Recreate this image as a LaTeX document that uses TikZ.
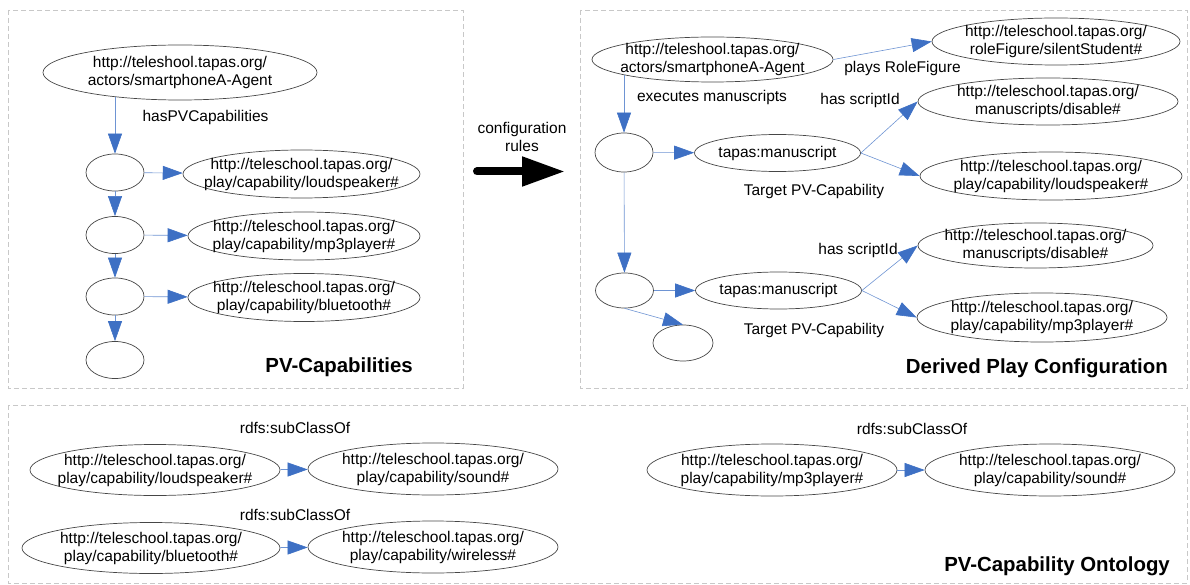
\documentclass[tikz,border=0pt]{standalone}
\usepackage{fontspec}
\setmainfont{Liberation Sans}
\usepackage{tikz}
\usetikzlibrary{arrows.meta, shapes.geometric}
\definecolor{linkblue}{RGB}{62, 112, 196}
\definecolor{framegray}{RGB}{200, 200, 200}
\definecolor{rimgray}{RGB}{70, 70, 70}

\begin{document}
\begin{tikzpicture}[
    x=1pt, y=-1pt,
    font=\fontsize{15.5}{18}\selectfont,
    uri/.style={ellipse, draw=rimgray, line width=0.7pt, inner xsep=-20pt, inner ysep=-8pt, align=center, minimum width=#1, minimum height=48pt},
    blank/.style={ellipse, draw=rimgray, line width=0.7pt, inner sep=0pt, minimum width=58pt, minimum height=37pt},
    script/.style={ellipse, draw=rimgray, line width=0.7pt, inner xsep=-20pt, inner ysep=-8pt, minimum width=166pt, minimum height=37pt},
    rel/.style={-{Triangle[length=20pt, width=14pt, color=linkblue]}, draw=linkblue!75, line width=0.6pt},
    lbl/.style={inner sep=0pt},
    heading/.style={anchor=east, inner sep=0pt, font=\fontsize{20.4}{24}\selectfont\bfseries},
    panel/.style={draw=framegray, dash pattern=on 5pt off 3pt, line width=0.8pt}
]
    \useasboundingbox (0,0) rectangle (1190,585);

    % Frames
    \draw[panel] (8,10) rectangle (463,388);
    \draw[panel] (580,10) rectangle (1187,388);
    \draw[panel] (8,405) rectangle (1187,583);

    % PV-Capabilities
    \node[uri=274pt, minimum height=55pt] (agentA) at (180,72.5) {http://teleshool.tapas.org/\\actors/smartphoneA-Agent};
    \node[lbl] (haspv) at (205.5,117) {hasPVCapabilities};
    \node[blank] (capA1) at (115,172.5) {};
    \node[blank] (capA2) at (115,235) {};
    \node[blank] (capA3) at (115,296.5) {};
    \node[blank] (capA4) at (115,360) {};
    \node[uri=237pt] (loudA) at (301.5,174) {http://teleschool.tapas.org/\\play/capability/loudspeaker\#};
    \node[uri=232pt] (mp3A) at (304,236) {http://teleschool.tapas.org/\\play/capability/mp3player\#};
    \node[uri=232pt] (btA) at (304,297.5) {http://teleschool.tapas.org/\\play/capability/bluetooth\#};
    \node[heading] (titleA) at (413,367) {PV-Capabilities};

    \draw[rel] (capA1.north |- agentA.200) -- (capA1);
    \foreach \a/\b in {capA1/capA2, capA2/capA3, capA3/capA4}
        \draw[rel] (\a) -- (\b);
    \draw[rel] (capA1) -- (loudA);
    \draw[rel] (capA2) -- (mp3A);
    \draw[rel] (capA3) -- (btA);

    % Configuration rules
    \node[lbl, align=center] (cfgrules) at (522,137) {configuration\\rules};
    \coordinate (cfgL) at (477,171.5);
    \coordinate (cfgR) at (565,171.5);
    \draw[line width=8pt, line cap=round, -{Triangle[length=43pt, width=28pt]}] (cfgL) -- (cfgR);

    % Derived Play Configuration
    \node[uri=241pt, minimum height=45pt] (agentB) at (712.5,59.5) {http://teleshool.tapas.org/\\actors/smartphoneA-Agent};
    \node[uri=248pt, minimum height=47pt] (silent) at (1056,41.5) {http://teleschool.tapas.org/\\roleFigure/silentStudent\#};
    \node[lbl] (plays) at (902.5,68) {plays RoleFigure};
    \node[lbl] (execs) at (712,97) {executes manuscripts};
    \node[blank, minimum height=39pt] (runA) at (624,152.5) {};
    \node[script] (msA) at (777.5,153) {tapas:manuscript};
    \node[lbl] (scriptidA) at (860,100) {has scriptId};
    \node[uri=260pt, minimum height=47pt] (disA) at (1048,101.5) {http://teleschool.tapas.org/\\manuscripts/disable\#};
    \node[uri=262pt] (loudB) at (1051,176) {http://teleschool.tapas.org/\\play/capability/loudspeaker\#};
    \node[lbl] (targetA) at (814,191) {Target PV-Capability};
    \node[blank, minimum height=35pt] (runB) at (624.5,290.5) {};
    \node[script] (msB) at (778.5,290.5) {tapas:manuscript};
    \node[lbl] (scriptidB) at (858,250) {has scriptId};
    \node[uri=235pt, minimum height=45pt] (disB) at (1035.5,245.5) {http://teleschool.tapas.org/\\manuscripts/disable\#};
    \node[uri=250pt, minimum height=49pt] (mp3B) at (1042,317.5) {http://teleschool.tapas.org/\\play/capability/mp3player\#};
    \node[lbl] (targetB) at (814,330) {Target PV-Capability};
    \node[blank, minimum width=60pt, minimum height=36pt] (runC) at (683,343) {};
    \node[heading] (titleB) at (1168,368) {Derived Play Configuration};

    \draw[rel] (agentB.east) -- (silent.west);
    \draw[rel] (runA.north |- agentB.190) -- (runA);
    \draw[rel] (runA) -- (msA);
    \draw[rel] (msA.east) -- (disA.west);
    \draw[rel] (msA.east) -- (loudB.west);
    \draw[rel] (runA) -- (runB);
    \draw[rel] (runB) -- (msB);
    \draw[rel] (msB.east) -- (disB.west);
    \draw[rel] (msB.east) -- (mp3B.west);
    \draw[rel] (runB.south) -- (runC.north);

    % PV-Capability Ontology
    \node[lbl] (subA) at (295,428) {rdfs:subClassOf};
    \node[uri=250pt, minimum height=51pt] (loudC) at (155,470) {http://teleschool.tapas.org/\\play/capability/loudspeaker\#};
    \node[uri=250pt, minimum height=52pt] (soundA) at (433,469) {http://teleschool.tapas.org/\\play/capability/sound\#};
    \node[lbl] (subB) at (295,515) {rdfs:subClassOf};
    \node[uri=258pt, minimum height=51pt] (btC) at (151,548) {http://teleschool.tapas.org/\\play/capability/bluetooth\#};
    \node[uri=250pt, minimum height=52pt] (wireless) at (433,547) {http://teleschool.tapas.org/\\play/capability/wireless\#};
    \node[lbl] (subC) at (912,429) {rdfs:subClassOf};
    \node[uri=250pt, minimum height=52pt] (mp3C) at (772,470) {http://teleschool.tapas.org/\\play/capability/mp3player\#};
    \node[uri=250pt, minimum height=52pt] (soundB) at (1050,470) {http://teleschool.tapas.org/\\play/capability/sound\#};
    \node[heading] (titleC) at (1170,566) {PV-Capability Ontology};

    \draw[rel] (loudC) -- (soundA);
    \draw[rel] (btC) -- (wireless);
    \draw[rel] (mp3C) -- (soundB);
\end{tikzpicture}
\end{document}
